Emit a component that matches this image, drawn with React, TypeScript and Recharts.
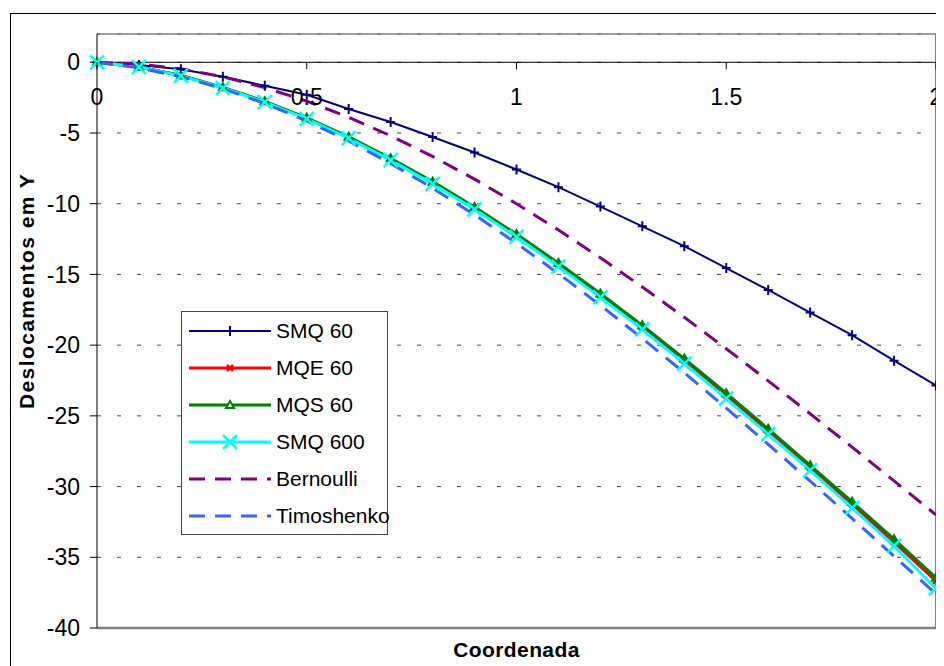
import React from 'react';
import { LineChart, Line, XAxis, YAxis, CartesianGrid, ReferenceLine, Legend } from 'recharts';

// x coordinate along the beam
const COORD = [0, 0.1, 0.2, 0.3, 0.4, 0.5, 0.6, 0.7, 0.8, 0.9, 1, 1.1, 1.2, 1.3, 1.4, 1.5, 1.6, 1.7, 1.8, 1.9, 2];

// displacements
const SMQ_60 = [0, -0.2, -0.5, -1.02, -1.66, -2.3, -3.3, -4.22, -5.28, -6.38, -7.58, -8.83, -10.2, -11.6, -13.0, -14.55, -16.1, -17.7, -19.3, -21.1, -22.85];
const MQE_60 = [0, -0.33, -0.94, -1.79, -2.79, -3.97, -5.32, -6.85, -8.51, -10.32, -12.25, -14.31, -16.48, -18.74, -21.1, -23.56, -26.09, -28.68, -31.28, -33.93, -36.68];
const MQS_60 = [0, -0.33, -0.93, -1.77, -2.76, -3.93, -5.27, -6.79, -8.44, -10.24, -12.15, -14.2, -16.35, -18.6, -20.95, -23.4, -25.92, -28.5, -31.08, -33.72, -36.45];
const SMQ_600 = [0, -0.34, -0.96, -1.82, -2.82, -4.0, -5.37, -6.92, -8.6, -10.4, -12.35, -14.45, -16.62, -18.88, -21.3, -23.78, -26.3, -28.85, -31.5, -34.2, -37.2];
const BERNOULLI = [0, -0.118, -0.464, -1.026, -1.792, -2.75, -3.888, -5.194, -6.656, -8.262, -10, -11.858, -13.824, -15.886, -18.032, -20.25, -22.528, -24.854, -27.216, -29.602, -32];
const TIMOSHENKO = [0, -0.398, -1.024, -1.866, -2.912, -4.15, -5.568, -7.154, -8.896, -10.782, -12.8, -14.938, -17.184, -19.526, -21.952, -24.45, -27.008, -29.614, -32.256, -34.922, -37.6];

const X_TICKS = [0, 0.5, 1, 1.5, 2];
const Y_TICKS = [0, -5, -10, -15, -20, -25, -30, -35, -40];

const data = COORD.map((x, i) => ({
  x,
  smq60: SMQ_60[i],
  mqe60: MQE_60[i],
  mqs60: MQS_60[i],
  smq600: SMQ_600[i],
  bernoulli: BERNOULLI[i],
  timoshenko: TIMOSHENKO[i],
}));

const FONT = '"Liberation Sans", Arial, sans-serif';
const W = 936;
const H = 658;
const MARGIN = { top: 26, right: 8, bottom: 0, left: 0 };
const X_AXIS_H = 38;
const Y_MIN = -40;
const Y_MAX = 2;
const PLOT_H = H - MARGIN.top - MARGIN.bottom - X_AXIS_H;
// pixel row where y = 0 sits (the x axis crosses there)
const Y_ZERO = MARGIN.top + (PLOT_H * Y_MAX) / (Y_MAX - Y_MIN);

type Marker = 'plus' | 'cross' | 'triangle' | 'bigX' | 'none';

const SERIES: { key: string; name: string; color: string; width: number; dash?: string; marker: Marker }[] = [
  { key: 'smq60', name: 'SMQ 60', color: '#000080', width: 2, marker: 'plus' },
  { key: 'mqe60', name: 'MQE 60', color: '#ff0000', width: 3, marker: 'cross' },
  { key: 'mqs60', name: 'MQS 60', color: '#008000', width: 3, marker: 'triangle' },
  { key: 'smq600', name: 'SMQ 600', color: '#00ffff', width: 3, marker: 'bigX' },
  { key: 'bernoulli', name: 'Bernoulli', color: '#800080', width: 3, dash: '16 10', marker: 'none' },
  { key: 'timoshenko', name: 'Timoshenko', color: '#3366ff', width: 3, dash: '16 10', marker: 'none' },
];

function markerShape(kind: Marker, cx: number, cy: number, color: string, filled: boolean, key?: string) {
  if (kind === 'plus') {
    return <path key={key} d={`M${cx - 4.5},${cy}h9M${cx},${cy - 5}v10`} stroke={color} strokeWidth={2} fill="none" />;
  }
  if (kind === 'cross') {
    return <path key={key} d={`M${cx - 3},${cy - 3}l6,6M${cx - 3},${cy + 3}l6,-6`} stroke={color} strokeWidth={2.5} fill="none" />;
  }
  if (kind === 'triangle') {
    return (
      <path
        key={key}
        d={`M${cx},${cy - 4}L${cx + 4},${cy + 3}L${cx - 4},${cy + 3}Z`}
        stroke={color}
        strokeWidth={2}
        fill={filled ? color : '#fff'}
      />
    );
  }
  if (kind === 'bigX') {
    return <path key={key} d={`M${cx - 7},${cy - 7}l14,14M${cx - 7},${cy + 7}l14,-14`} stroke={color} strokeWidth={2.5} fill="none" />;
  }
  return <g key={key} />;
}

const makeDot = (kind: Marker, color: string) => (p: any) => {
  if (p.cx == null || p.cy == null) return <g key={`e-${p.index}`} />;
  return markerShape(kind, p.cx, p.cy, color, true, `${kind}-${p.index}`);
};

function XTick({ x, payload }: any) {
  return (
    <g>
      <line x1={x} x2={x} y1={Y_ZERO} y2={Y_ZERO + 7} stroke="#000" />
      <text x={x} y={Y_ZERO + 43} textAnchor="middle" fontSize={23} fontFamily={FONT} fill="#000">
        {payload.value}
      </text>
    </g>
  );
}

function XTitle({ viewBox }: any) {
  const cx = viewBox.x + viewBox.width / 2;
  const y = viewBox.y + viewBox.height - 9;
  return (
    <text x={cx} y={y} textAnchor="middle" fontSize={21} fontWeight="bold" fontFamily={FONT} letterSpacing={0.4} fill="#000">
      Coordenada
    </text>
  );
}

function YTitle() {
  return (
    <text
      transform="translate(26,283) rotate(-90)"
      textAnchor="middle"
      fontSize={21}
      fontWeight="bold"
      fontFamily={FONT}
      letterSpacing={1.4}
      fill="#000"
    >
      Deslocamentos em Y
    </text>
  );
}

function LegendBox() {
  return (
    <div style={{ border: '1px solid #444', background: '#fff', width: 205, fontFamily: FONT, fontSize: 21, color: '#000' }}>
      {SERIES.map((s) => (
        <div key={s.key} style={{ height: 37, display: 'flex', alignItems: 'center' }}>
          <svg width={94} height={20} style={{ display: 'block', flex: 'none' }}>
            <line x1={7} x2={89} y1={10} y2={10} stroke={s.color} strokeWidth={s.width} strokeDasharray={s.dash} />
            {markerShape(s.marker, 48, 10, s.color, false)}
          </svg>
          <span style={{ whiteSpace: 'nowrap' }}>{s.name}</span>
        </div>
      ))}
    </div>
  );
}

export default function App() {
  return (
    <div style={{ position: 'relative', width: W, height: H, overflow: 'hidden', background: '#fff' }}>
      {/* outer chart frame, runs off the page on the right and bottom */}
      <div style={{ position: 'absolute', left: 2, top: 5, width: 1000, height: 1000, border: '1px solid #000' }} />
      <div style={{ position: 'absolute', left: 0, top: 0 }}>
        <LineChart width={W} height={H} data={data} margin={MARGIN} style={{ fontFamily: FONT }}>
          <CartesianGrid vertical={false} stroke="#444" strokeDasharray="4 16" />
          <XAxis
            dataKey="x"
            type="number"
            domain={[0, 2]}
            ticks={X_TICKS}
            height={X_AXIS_H}
            axisLine={false}
            tickLine={false}
            tick={<XTick />}
            label={<XTitle />}
          />
          <YAxis
            type="number"
            domain={[Y_MIN, Y_MAX]}
            ticks={Y_TICKS}
            width={89}
            allowDataOverflow
            stroke="#000"
            tickSize={7}
            tickMargin={10}
            tick={{ fill: '#000', fontSize: 23, fontFamily: FONT }}
            label={<YTitle />}
          />
          <ReferenceLine y={Y_MAX} stroke="#808080" strokeWidth={1.3} />
          <ReferenceLine x={2} stroke="#808080" strokeWidth={2} />
          <ReferenceLine y={Y_MIN} stroke="#808080" strokeWidth={2.5} />
          <ReferenceLine y={0} stroke="#000" strokeWidth={1} />
          <Legend
            layout="vertical"
            align="center"
            verticalAlign="middle"
            content={<LegendBox />}
            wrapperStyle={{ left: 173, top: 303, width: 207, height: 224 }}
          />
          {SERIES.map((s) => (
            <Line
              key={s.key}
              type="linear"
              dataKey={s.key}
              name={s.name}
              stroke={s.color}
              strokeWidth={s.width}
              strokeDasharray={s.dash}
              dot={s.marker === 'none' ? false : makeDot(s.marker, s.color)}
              activeDot={false}
              isAnimationActive={false}
            />
          ))}
        </LineChart>
      </div>
    </div>
  );
}
